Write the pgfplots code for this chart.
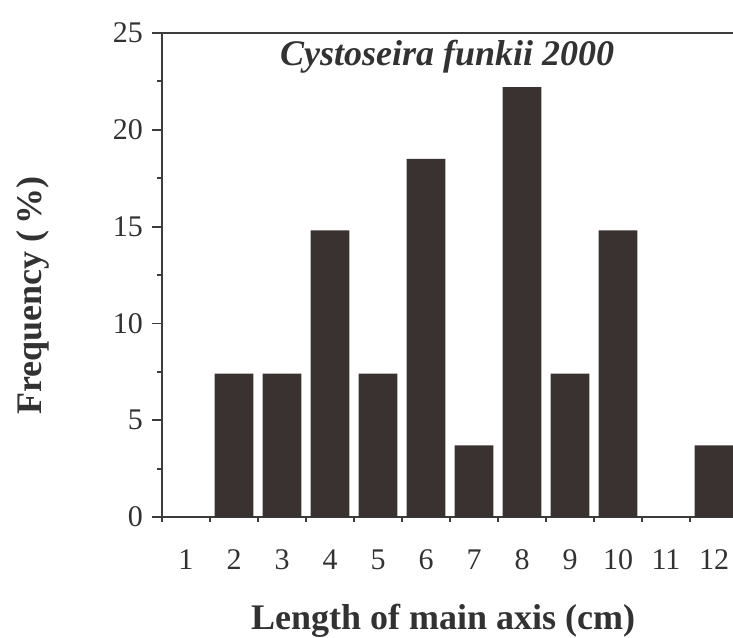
\documentclass[border=0pt]{standalone}
\usepackage{pgfplots}
\pgfplotsset{compat=1.18}
\usepackage{fontspec}
\setmainfont{Liberation Serif}
\definecolor{barc}{RGB}{58,50,48}
\definecolor{axc}{RGB}{60,60,60}
\definecolor{txt}{RGB}{50,50,50}
\begin{document}
\begin{tikzpicture}
\path[use as bounding box, clip] (0,0) rectangle (366.5pt,318.5pt);
\begin{axis}[
  at={(81pt,60pt)}, anchor=south west,
  scale only axis, width=288pt, height=242pt,
  xmin=0.5, xmax=12.5, ymin=0, ymax=25,
  axis line style={axc, line width=1pt},
  ybar, bar width=0.81,
  xtick={1,...,12},
  xticklabels={1,2,3,4,5,6,7,8,9,10,11,12},
  minor xtick={0.5,1.5,...,12.5},
  major x tick style={draw=none},
  ytick={0,5,...,25},
  minor ytick={2.5,7.5,...,22.5},
  tick align=outside,
  xtick pos=bottom, ytick pos=left,
  major tick length=5pt, minor tick length=2.5pt,
  tick style={axc, line width=0.9pt},
  /pgf/number format/assume math mode=true,
  ticklabel style={font=\fontsize{15}{17}\selectfont, text=txt},
  xticklabel style={yshift=-7pt, text height=10.5pt, text depth=0pt},
  yticklabel style={xshift=-1pt},
  xlabel={\textbf{Length of main axis (cm)}},
  ylabel={\textbf{Frequency (\,\%)}},
  label style={font=\fontsize{18}{21}\selectfont, text=txt},
  xlabel style={at={(rel axis cs:0.488,-0.215)}, anchor=center},
  ylabel style={at={(rel axis cs:-0.224,0.457)}, anchor=center},
]
\addplot[fill=barc, draw=none] coordinates {
  (2,7.4) (3,7.4) (4,14.8) (5,7.4) (6,18.5) (7,3.7)
  (8,22.2) (9,7.4) (10,14.8) (12,3.7)
};
\node[font=\fontsize{18}{21}\selectfont\bfseries\itshape, text=txt] at (rel axis cs:0.495,0.952) {Cystoseira funkii 2000};
\end{axis}
\end{tikzpicture}
\end{document}
